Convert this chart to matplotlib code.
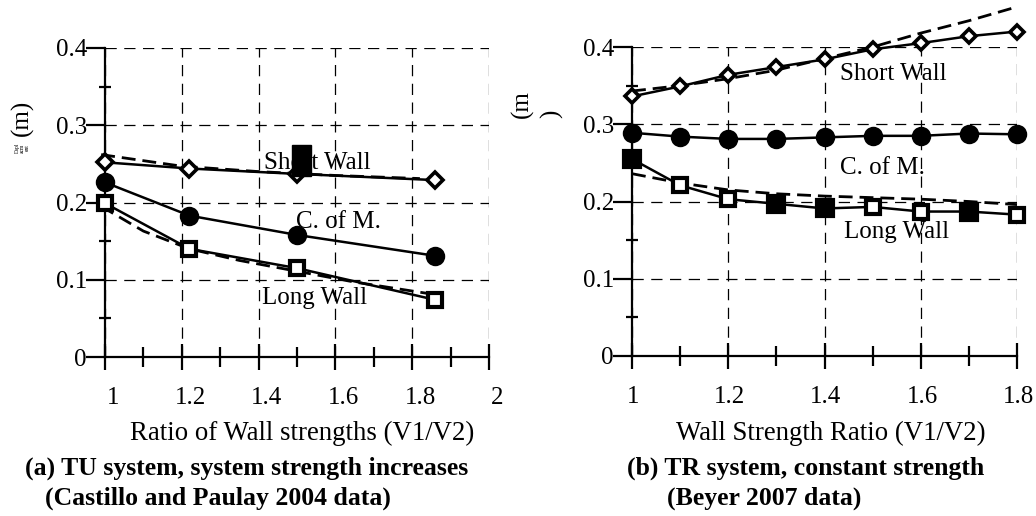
import matplotlib
matplotlib.use('Agg')
import matplotlib.pyplot as plt
from matplotlib.patches import Rectangle
from matplotlib.transforms import ScaledTranslation

plt.rcParams['font.family'] = ['Liberation Serif', 'DejaVu Serif']

# (a) TU system - Castillo and Paulay 2004
ratio_a = [1.0, 1.22, 1.5, 1.86]
short_a = [0.252, 0.244, 0.237, 0.229]
com_a = [0.226, 0.183, 0.158, 0.131]
long_a = [0.199, 0.140, 0.115, 0.074]
# fitted trends
fit_x_short_a = [0.99, 1.2, 1.4, 1.6, 1.82]
fit_short_a = [0.262, 0.247, 0.240, 0.235, 0.231]
fit_x_long_a = [0.99, 1.1, 1.22, 1.35, 1.5, 1.65, 1.87]
fit_long_a = [0.195, 0.163, 0.140, 0.125, 0.111, 0.097, 0.080]

# (b) TR system - Beyer 2007
ratio_b = [1.0, 1.1, 1.2, 1.3, 1.4, 1.5, 1.6, 1.7, 1.8]
short_b = [0.336, 0.349, 0.364, 0.374, 0.384, 0.397, 0.405, 0.414, 0.420]
com_b = [0.289, 0.284, 0.281, 0.281, 0.283, 0.285, 0.285, 0.288, 0.287]
long_b = [0.255, 0.221, 0.203, 0.197, 0.191, 0.193, 0.187, 0.187, 0.183]
long_b_filled = [True, False, False, True, True, False, False, True, False]
fit_short_b = [0.343, 0.350, 0.359, 0.370, 0.385, 0.400, 0.418, 0.434, 0.452]
fit_long_b = [0.236, 0.224, 0.215, 0.210, 0.207, 0.205, 0.203, 0.200, 0.196]

FS = 18        # tick labels and curve names
FS_LAB = 19.3  # axis titles
FS_CAP = 18.5  # captions
W, H = 1036, 516
fig = plt.figure(figsize=(W / 100, H / 100), dpi=100)


def px_axes(x0, x1, y0, y1):
    return fig.add_axes([x0 / W, 1 - y0 / H, (x1 - x0) / W, (y0 - y1) / H])


def style_axes(ax, xmax, xmajor, xminor, xlabels, shift):
    ax.set_ylim(0, 0.4)
    ax.set_xlim(1.0, xmax)
    for s in ['top', 'right']:
        ax.spines[s].set_visible(False)
    for s in ['left', 'bottom']:
        ax.spines[s].set_linewidth(1.6)
    ax.set_yticks([0, 0.1, 0.2, 0.3, 0.4])
    ax.set_yticklabels(['0', '0.1', '0.2', '0.3', '0.4'])
    ax.set_yticks([0.05, 0.15, 0.25, 0.35], minor=True)
    ax.set_xticks(xmajor)
    ax.set_xticklabels(xlabels)
    ax.set_xticks(xminor, minor=True)
    ax.tick_params(axis='y', which='major', direction='out', length=14,
                   width=1.6, pad=-1, labelsize=FS)
    ax.tick_params(axis='y', which='minor', direction='inout', length=9,
                   width=1.6)
    ax.tick_params(axis='x', which='major', direction='inout', length=19,
                   width=1.6, pad=12, labelsize=FS)
    ax.tick_params(axis='x', which='minor', direction='inout', length=14,
                   width=1.6)
    ax.grid(True, which='major', color='k', lw=0.9, ls=(0, (9, 6)))
    ax.set_axisbelow(True)
    for lab in ax.get_xticklabels():
        lab.set_transform(lab.get_transform() +
                          ScaledTranslation(shift / 72, 0, fig.dpi_scale_trans))


def curve(ax, x, y, marker, ms, face, mew=2):
    ax.plot(x, y, '-', color='k', lw=1.8, marker=marker, ms=ms,
            mfc=face, mec='k', mew=mew, clip_on=False, zorder=3)


def trend(ax, x, y):
    ax.plot(x, y, color='k', lw=2.0, ls=(0, (5, 2.5)), clip_on=False, zorder=2)


# ---- panel (a)
ax1 = px_axes(105, 489, 357, 48)
style_axes(ax1, 2.0, [1.0, 1.2, 1.4, 1.6, 1.8, 2.0],
           [1.1, 1.3, 1.5, 1.7, 1.9], ['1', '1.2', '1.4', '1.6', '1.8', '2'], 6)
trend(ax1, fit_x_short_a, fit_short_a)
trend(ax1, fit_x_long_a, fit_long_a)
curve(ax1, ratio_a, short_a, 'D', 8, 'white', mew=2.6)
curve(ax1, ratio_a, com_a, 'o', 12, 'k')
curve(ax1, ratio_a, long_a, 's', 10, 'white', mew=3)
ax1.text(1.415, 0.251, 'Short Wall', fontsize=FS, va='center', zorder=4)
ax1.add_patch(Rectangle((1.486, 0.234), 0.05, 0.041, color='k', zorder=5))
ax1.text(1.497, 0.175, 'C. of M.', fontsize=FS, va='center', zorder=4)
ax1.text(1.408, 0.076, 'Long Wall', fontsize=FS, va='center', zorder=4)

# ---- panel (b)
ax2 = px_axes(632, 1017, 356, 47)
style_axes(ax2, 1.8, [1.0, 1.2, 1.4, 1.6, 1.8], [1.1, 1.3, 1.5, 1.7],
           ['1', '1.2', '1.4', '1.6', '1.8'], 1)
trend(ax2, ratio_b, fit_short_b)
trend(ax2, ratio_b, fit_long_b)
curve(ax2, ratio_b, short_b, 'D', 7.5, 'white', mew=2.6)
curve(ax2, ratio_b, com_b, 'o', 12, 'k')
ax2.plot(ratio_b, long_b, '-', color='k', lw=1.8, clip_on=False, zorder=3)
for x, y, filled in zip(ratio_b, long_b, long_b_filled):
    ax2.plot(x, y, marker='s', ms=11 if filled else 10,
             mfc='k' if filled else 'white', mec='k', mew=3,
             clip_on=False, zorder=4)
ax2.text(1.433, 0.365, 'Short Wall', fontsize=FS, va='center', zorder=4)
ax2.text(1.433, 0.244, 'C. of M.', fontsize=FS, va='center', zorder=4)
ax2.text(1.44, 0.160, 'Long Wall', fontsize=FS, va='center', zorder=4)

# axis titles and captions
fig.text(22 / W, 1 - 118 / H, '(m)', rotation=90, fontsize=FS,
         ha='center', va='center')
fig.text(22 / W, 1 - 148 / H, 'Dspl\nacm\nent', rotation=90, fontsize=4,
         ha='center', va='center', linespacing=1.0)
fig.text(522 / W, 1 - 104 / H, '(m', rotation=90, fontsize=FS,
         ha='center', va='center')
fig.text(552 / W, 1 - 114 / H, ')', rotation=90, fontsize=FS,
         ha='center', va='center')

fig.text(302 / W, 1 - 433 / H, 'Ratio of Wall strengths (V1/V2)',
         fontsize=FS_LAB, ha='center', va='center')
fig.text(831 / W, 1 - 433 / H, 'Wall Strength Ratio (V1/V2)',
         fontsize=FS_LAB, ha='center', va='center')
fig.text(25 / W, 1 - 468 / H, '(a) TU system, system strength increases',
         fontsize=FS_CAP, fontweight='bold', ha='left', va='center')
fig.text(45 / W, 1 - 498 / H, '(Castillo and Paulay 2004 data)',
         fontsize=FS_CAP, fontweight='bold', ha='left', va='center')
fig.text(627 / W, 1 - 468 / H, '(b) TR system, constant strength',
         fontsize=FS_CAP, fontweight='bold', ha='left', va='center')
fig.text(667 / W, 1 - 498 / H, '(Beyer 2007 data)',
         fontsize=FS_CAP, fontweight='bold', ha='left', va='center')

fig.savefig('out.png', dpi=100)
